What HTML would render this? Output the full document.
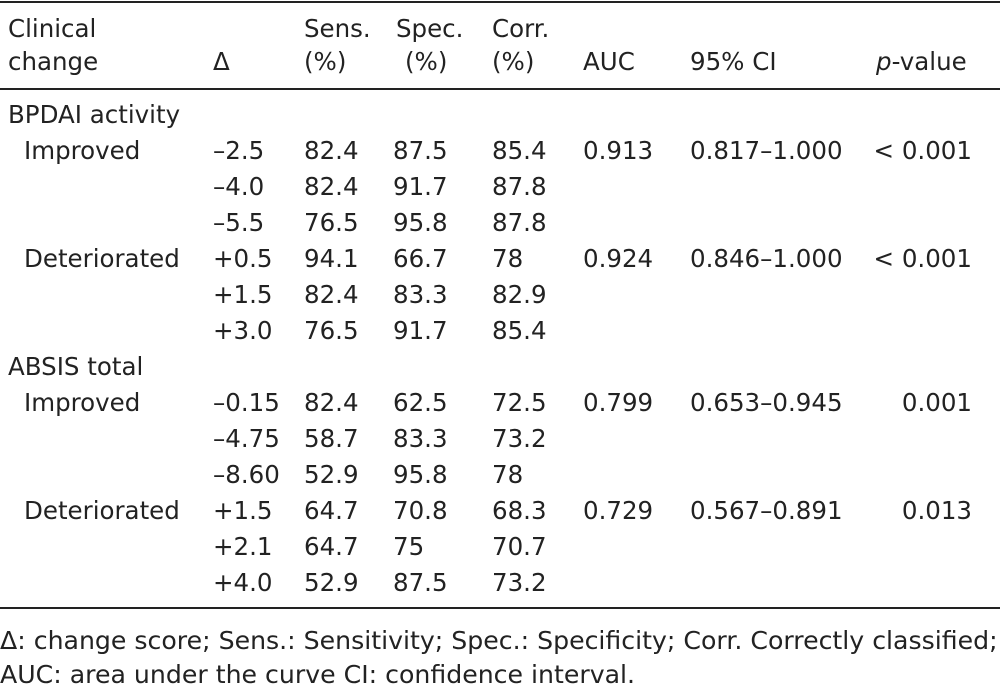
<!DOCTYPE html>
<html><head><style>
body{margin:0;width:1000px;height:688px;background:#fff;overflow:hidden;font-family:"DejaVu Sans","Liberation Sans",sans-serif;font-size:24.5px;color:#222;position:relative}
.t{position:absolute;white-space:nowrap;line-height:1}
.l{position:absolute;left:0;width:1000px;height:2px;background:#222}
.r{text-align:right}
</style></head><body>
<div class="l" style="top:1px"></div>
<div class="l" style="top:88px"></div>
<div class="l" style="top:607px"></div>

<div class="t" style="left:8px;top:17px">Clinical</div>
<div class="t" style="left:8px;top:50px">change</div>
<div class="t" style="left:213px;top:50px">Δ</div>
<div class="t" style="left:304px;top:17px">Sens.</div>
<div class="t" style="left:304px;top:50px">(%)</div>
<div class="t" style="left:396px;top:17px">Spec.</div>
<div class="t" style="left:405px;top:50px">(%)</div>
<div class="t" style="left:492px;top:17px">Corr.</div>
<div class="t" style="left:492px;top:50px">(%)</div>
<div class="t" style="left:583px;top:50px">AUC</div>
<div class="t" style="left:690px;top:50px">95% CI</div>
<div class="t" style="left:876px;top:50px"><i>p</i>-value</div>

<div class="t" style="left:8px;top:103px">BPDAI activity</div>
<div class="t" style="left:8px;top:355px">ABSIS total</div>

<div id="rows"></div>
<script>
var rows=[
[139,"Improved","–2.5","82.4","87.5","85.4","0.913","0.817–1.000","&lt; 0.001"],
[175,"","–4.0","82.4","91.7","87.8","","",""],
[211,"","–5.5","76.5","95.8","87.8","","",""],
[247,"Deteriorated","+0.5","94.1","66.7","78","0.924","0.846–1.000","&lt; 0.001"],
[283,"","+1.5","82.4","83.3","82.9","","",""],
[319,"","+3.0","76.5","91.7","85.4","","",""],
[391,"Improved","–0.15","82.4","62.5","72.5","0.799","0.653–0.945","0.001"],
[427,"","–4.75","58.7","83.3","73.2","","",""],
[463,"","–8.60","52.9","95.8","78","","",""],
[499,"Deteriorated","+1.5","64.7","70.8","68.3","0.729","0.567–0.891","0.013"],
[535,"","+2.1","64.7","75","70.7","","",""],
[571,"","+4.0","52.9","87.5","73.2","","",""]];
var xs=[24,213,304,393,492,583,690];var h="";
rows.forEach(function(r){for(var i=0;i<7;i++)if(r[i+1])h+='<div class="t" style="left:'+xs[i]+'px;top:'+r[0]+'px">'+r[i+1]+'</div>';
if(r[8])h+='<div class="t r" style="right:28px;top:'+r[0]+'px">'+r[8]+'</div>';});
document.getElementById("rows").innerHTML=h;
</script>
<div class="t" style="left:0;top:628px;font-size:25.2px">Δ: change score; Sens.: Sensitivity; Spec.: Specificity; Corr. Correctly classified;</div>
<div class="t" style="left:0;top:662px;font-size:25.2px">AUC: area under the curve CI: confidence interval.</div>
</body></html>
